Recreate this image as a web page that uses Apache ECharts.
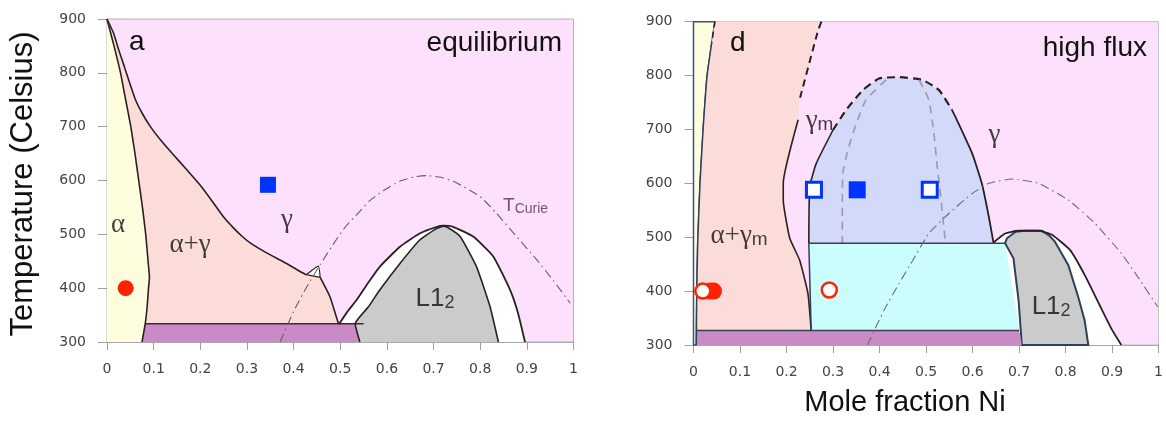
<!DOCTYPE html>
<html><head><meta charset="utf-8">
<script src="https://cdn.jsdelivr.net/npm/echarts@6/dist/echarts.min.js"></script>
<style>html,body{margin:0;padding:0;background:#fff}#c{width:1166px;height:421px}</style>
</head><body><div id="c"></div>
<script>
// ---------- tick labels ----------
const xTicks = ['0','0.1','0.2','0.3','0.4','0.5','0.6','0.7','0.8','0.9','1'];
const yTicks = ['300','400','500','600','700','800','900'];

// ---------- panel a (equilibrium) ----------
const aAlphaBound = [[0,900],[0.015,850],[0.029,800],[0.04,750],[0.051,700],[0.06,650],[0.068,600],[0.076,550],[0.083,500],[0.088,450],[0.091,420],[0.089,400],[0.086,365],[0.082,334],[0.075,300]];
const aGammaBound = [[0,900],[0.014,874],[0.025,843],[0.037,812],[0.049,780],[0.061,750],[0.076,724],[0.093,700],[0.114,676],[0.14,650],[0.171,620],[0.2,591],[0.225,562],[0.25,532],[0.271,512],[0.29,496],[0.307,484],[0.343,465],[0.378,449],[0.414,431],[0.427,425]];
const aGammaBound2 = [[0.457,420],[0.478,384],[0.496,335],[0.5,334]];
const aTriangle = [[0.427,425],[0.453,441],[0.457,420]];
const aPurple = [[0.075,300],[0.082,334],[0.532,334],[0.542,300]];
const aPurpleTop = [[0.082,334],[0.55,334]];
const aL12Outer = [[0.498,334],[0.515,356],[0.535,378],[0.56,410],[0.585,440],[0.628,477],[0.671,502],[0.707,514],[0.721,516],[0.742,514],[0.785,496],[0.828,459],[0.864,397],[0.881,354],[0.896,300]];
const aL12Inner = [[0.542,300],[0.532,334],[0.56,365],[0.585,397],[0.628,446],[0.671,490],[0.707,511],[0.721,515],[0.728,514],[0.757,496],[0.792,440],[0.821,366],[0.839,300]];
const aCurie = [[0.371,300],[0.4,357],[0.43,405],[0.457,444],[0.49,488],[0.512,515],[0.54,541],[0.564,563],[0.592,581],[0.628,599],[0.66,607],[0.685,609],[0.715,606],[0.749,596],[0.8,570],[0.835,539],[0.878,496],[0.921,453],[0.956,415],[0.993,372]];
const aRedFilled = [[0.04,400]];
const aBlueFilled = [[0.345,592]];

// ---------- panel d (high flux) ----------
const dAlphaBound = [[0.046,900],[0.039,860],[0.029,798],[0.021,705],[0.014,600],[0.009,489],[0.007,396],[0.006,300]];
const dSalmonBound = [[0.275,900],[0.267,881],[0.228,755],[0.225,718],[0.193,600],[0.193,569],[0.207,498],[0.228,458],[0.246,396],[0.253,327]];
const dDomeLeft = [[0.248,489],[0.25,594],[0.264,637],[0.3,699]];
const dDomeTop = [[0.3,699],[0.328,736],[0.364,773],[0.4,795],[0.442,797],[0.492,792],[0.528,773],[0.556,736]];
const dDomeRight = [[0.556,736],[0.57,711],[0.599,656],[0.62,600],[0.635,538],[0.645,490]];
const dGrayDash1 = [[0.414,792],[0.371,755],[0.35,711],[0.332,662],[0.321,619],[0.32,538],[0.32,489]];
const dGrayDash2 = [[0.485,792],[0.506,755],[0.517,693],[0.524,631],[0.53,590],[0.535,545],[0.542,489]];
const dCyan = [[0.248,489],[0.67,489],[0.688,461],[0.699,383],[0.70,327],[0.253,327]];
const dPurple = [[0.006,300],[0.007,327],[0.70,327],[0.706,300]];
const dL12Outer = [[0.645,490],[0.67,507],[0.699,512],[0.742,512],[0.77,505],[0.81,476],[0.843,427],[0.875,371],[0.9,328],[0.92,300]];
const dL12Gray = [[0.706,300],[0.699,383],[0.688,461],[0.67,489],[0.674,498],[0.692,510],[0.713,512],[0.749,512],[0.765,503],[0.777,492],[0.806,448],[0.827,390],[0.841,346],[0.849,300]];
const dCurie = [[0.374,300],[0.41,365],[0.442,414],[0.47,455],[0.506,507],[0.549,544],[0.599,581],[0.635,600],[0.685,608],[0.742,600],[0.806,569],[0.863,526],[0.92,470],[0.955,427],[0.998,371]];
const dRedFilled = [[0.036,400],[0.043,400]];
const dRedOpen = [[0.02,400],[0.292,402]];
const dBlueFilled = [[0.352,588]];
const dBlueOpen = [[0.259,588],[0.508,588]];

// ---------- region labels [x, T, text] ----------
const aLabels = [[0.024,521,'{g|α}'],[0.178,484,'{g|α+γ}'],[0.386,529,'{g|γ}'],[0.703,384,'{l|L1}{ls|2}']];
const aCurieLabel = [[0.849,555,'{t|T}{ts|Curie}']];
const dLabels = [[0.271,719,'{g|γ}{ms|m}'],[0.647,692,'{g|γ}'],[0.098,506,'{g|α+γ}{ms|m}'],[0.769,374,'{l|L1}{ls|2}']];

// ---------- helpers ----------
const C = {pink:'#fde0fb', yellow:'#fefede', salmon:'#fcdcd8', purple:'#c98bc6', gray:'#cbcbcb', blue:'#d3d9f9', cyan:'#ccfdfd', line:'#2a2024', navy:'#2f3f5c'};
function poly(g, pts, fill, z, stroke, lw){
  return {type:'custom', xAxisIndex:g, yAxisIndex:g, z:z, silent:true, data:[pts[0]],
    renderItem:function(params, api){
      return {type:'polygon', shape:{points:pts.map(p=>api.coord(p))},
        style:{fill:fill, stroke:stroke||null, lineWidth:lw||0}};
    }};
}
function line(g, pts, color, width, type, z){
  return {type:'line', xAxisIndex:g, yAxisIndex:g, data:pts, symbol:'none', silent:true, z:z||5,
    smooth:0.15, lineStyle:{color:color, width:width, type:type||'solid'}, animation:false};
}
function scat(g, pts, sym, size, fill, border, bw, z){
  return {type:'scatter', xAxisIndex:g, yAxisIndex:g, data:pts, symbol:sym, symbolSize:size, z:z||10, silent:true,
    itemStyle:{color:fill, borderColor:border||fill, borderWidth:bw||0, opacity:1}};
}
const rich = {
  g:{fontFamily:'Liberation Serif', fontSize:27, color:'#111', lineHeight:30, verticalAlign:'bottom'},
  ms:{fontFamily:'Liberation Sans', fontSize:19, color:'#111', lineHeight:12, verticalAlign:'bottom'},
  l:{fontFamily:'Liberation Sans', fontSize:26, color:'#111', lineHeight:30, verticalAlign:'bottom'},
  ls:{fontFamily:'Liberation Sans', fontSize:18, color:'#111', lineHeight:16, verticalAlign:'bottom'},
  t:{fontFamily:'Liberation Sans', fontSize:19, color:'#4d2f4d', lineHeight:22, verticalAlign:'bottom'},
  ts:{fontFamily:'Liberation Sans', fontSize:14, color:'#4d2f4d', lineHeight:15, verticalAlign:'bottom'}
};
function labels(g, arr, align){
  return {type:'scatter', xAxisIndex:g, yAxisIndex:g, data:arr.map(a=>[a[0],a[1],a[2]]), symbolSize:0, z:20, silent:true,
    label:{show:true, position:'inside', align:align||'center', verticalAlign:'middle',
      formatter:function(p){return p.data[2];}, rich:rich}};
}
function xAx(g){
  return {gridIndex:g, type:'value', min:0, max:1, interval:0.1,
    axisLine:{show:true, lineStyle:{color:'#a8a8a8', width:1}},
    axisTick:{show:true, length:8, lineStyle:{color:'#a0a0a0'}},
    splitLine:{show:false},
    axisLabel:{margin:20, color:'#444', fontFamily:'DejaVu Sans', fontSize:14,
      formatter:function(v){return xTicks[Math.round(v*10)];}}};
}
function yAx(g){
  return {gridIndex:g, type:'value', min:300, max:900, interval:100,
    axisLine:{show:true, lineStyle:{color:'#a8a8a8', width:1}},
    axisTick:{show:true, length:9, lineStyle:{color:'#a0a0a0'}},
    splitLine:{show:false},
    axisLabel:{margin:21, color:'#444', fontFamily:'DejaVu Sans', fontSize:14,
      formatter:function(v){return yTicks[Math.round((v-300)/100)];}}};
}

const aSalmon = aGammaBound.concat(aTriangle.slice(1)).concat(aGammaBound2).concat(aAlphaBound.slice(0,14).reverse());

const series = [
  // panel a
  poly(0, [[0,300]].concat(aAlphaBound.slice().reverse()).concat([[0,900]]), C.yellow, 1),
  poly(0, aSalmon, C.salmon, 2),
  poly(0, aTriangle, '#ffffff', 3),
  poly(0, aL12Outer.concat([[0.542,300],[0.532,334]]), '#ffffff', 3),
  poly(0, aL12Inner, C.gray, 4),
  poly(0, aPurple, C.purple, 4),
  line(0, aAlphaBound, C.line, 1.6),
  line(0, aGammaBound, C.line, 1.6),
  line(0, aGammaBound2, C.line, 1.6),
  line(0, aTriangle.concat([aTriangle[0]]), C.line, 1.2),
  line(0, aPurpleTop, '#4a2040', 1.4),
  line(0, aL12Outer, C.line, 1.8),
  line(0, aL12Inner, C.line, 1.6),
  line(0, aCurie, '#6a5a6a', 1.1, [9,4,1.5,4], 6),
  scat(0, aRedFilled, 'circle', 16, '#ff2200'),
  scat(0, aBlueFilled, 'rect', 16, '#0033ff'),
  labels(0, aLabels),
  labels(0, aCurieLabel, 'left'),
  // panel d
  poly(1, [[0,300],[0,900]].concat(dAlphaBound), C.yellow, 1, '#3d5080', 1.5),
  poly(1, dAlphaBound.concat([[0.253,300]]).concat(dSalmonBound.slice().reverse()), C.salmon, 2),
  poly(1, dDomeLeft.concat(dDomeTop).concat(dDomeRight), C.blue, 2),
  poly(1, dCyan, C.cyan, 3),
  poly(1, dL12Outer.concat([[0.706,300],[0.67,489]]), '#ffffff', 3),
  poly(1, dL12Gray, C.gray, 4, C.navy, 2),
  poly(1, dPurple, C.purple, 4),
  line(1, dAlphaBound.slice(0,2), C.line, 1.6, [6,4]),
  line(1, dAlphaBound.slice(1), C.navy, 1.5),
  line(1, dSalmonBound.slice(0,3), C.line, 2, [7,5]),
  line(1, dSalmonBound.slice(3), C.line, 1.6),
  line(1, dDomeLeft, C.line, 1.6),
  line(1, dDomeTop, C.line, 2.2, [8,5]),
  line(1, dDomeRight, C.line, 1.8),
  line(1, dGrayDash1, '#9a9aa8', 1.6, [8,6]),
  line(1, dGrayDash2, '#9a9aa8', 1.6, [8,6]),
  line(1, [[0.248,489],[0.67,489]], '#34404e', 1.5),
  line(1, [[0.248,489],[0.253,327]], '#34404e', 1.5),
  line(1, [[0.007,327],[0.70,327]], '#34404e', 1.4),
  line(1, dL12Outer, C.line, 1.8),
  line(1, dCurie, '#6a6a78', 1.1, [9,4,1.5,4], 6),
  scat(1, dRedFilled, 'circle', 17, '#ff2200'),
  scat(1, dRedOpen, 'circle', 15, '#ffffff', '#ff2200', 2.5, 11),
  scat(1, dBlueFilled, 'rect', 17, '#0033ff'),
  scat(1, dBlueOpen, 'rect', 15, '#ffffff', '#0033ff', 3),
  labels(1, dLabels)
];

const chart = echarts.init(document.getElementById('c'), null, {renderer:'canvas'});
chart.setOption({
  animation:false,
  backgroundColor:'#ffffff',
  grid:[
    {left:107, top:19, width:466.5, height:323, show:true, backgroundColor:C.pink, borderColor:'#b5b5b5', borderWidth:1},
    {left:693.5, top:21.7, width:467.5, height:323.3, show:true, backgroundColor:C.pink, borderColor:'#c0c0c0', borderWidth:1}
  ],
  xAxis:[xAx(0), xAx(1)],
  yAxis:[yAx(0), yAx(1)],
  graphic:[
    {type:'text', x:23, y:184, rotation:Math.PI/2, z:50, style:{text:'Temperature (Celsius)', font:'31px "Liberation Sans"', fill:'#111', align:'center', verticalAlign:'middle'}},
    {type:'text', x:905, y:403, z:50, style:{text:'Mole fraction Ni', font:'29px "Liberation Sans"', fill:'#111', align:'center', verticalAlign:'middle'}},
    {type:'text', x:129, y:42, z:50, style:{text:'a', font:'28px "Liberation Sans"', fill:'#111', align:'left', verticalAlign:'middle'}},
    {type:'text', x:562, y:43, z:50, style:{text:'equilibrium', font:'28px "Liberation Sans"', fill:'#111', align:'right', verticalAlign:'middle'}},
    {type:'text', x:730, y:43, z:50, style:{text:'d', font:'28px "Liberation Sans"', fill:'#111', align:'left', verticalAlign:'middle'}},
    {type:'text', x:1147, y:48, z:50, style:{text:'high flux', font:'28px "Liberation Sans"', fill:'#111', align:'right', verticalAlign:'middle'}}
  ],
  series:series
});
</script>
</body></html>
